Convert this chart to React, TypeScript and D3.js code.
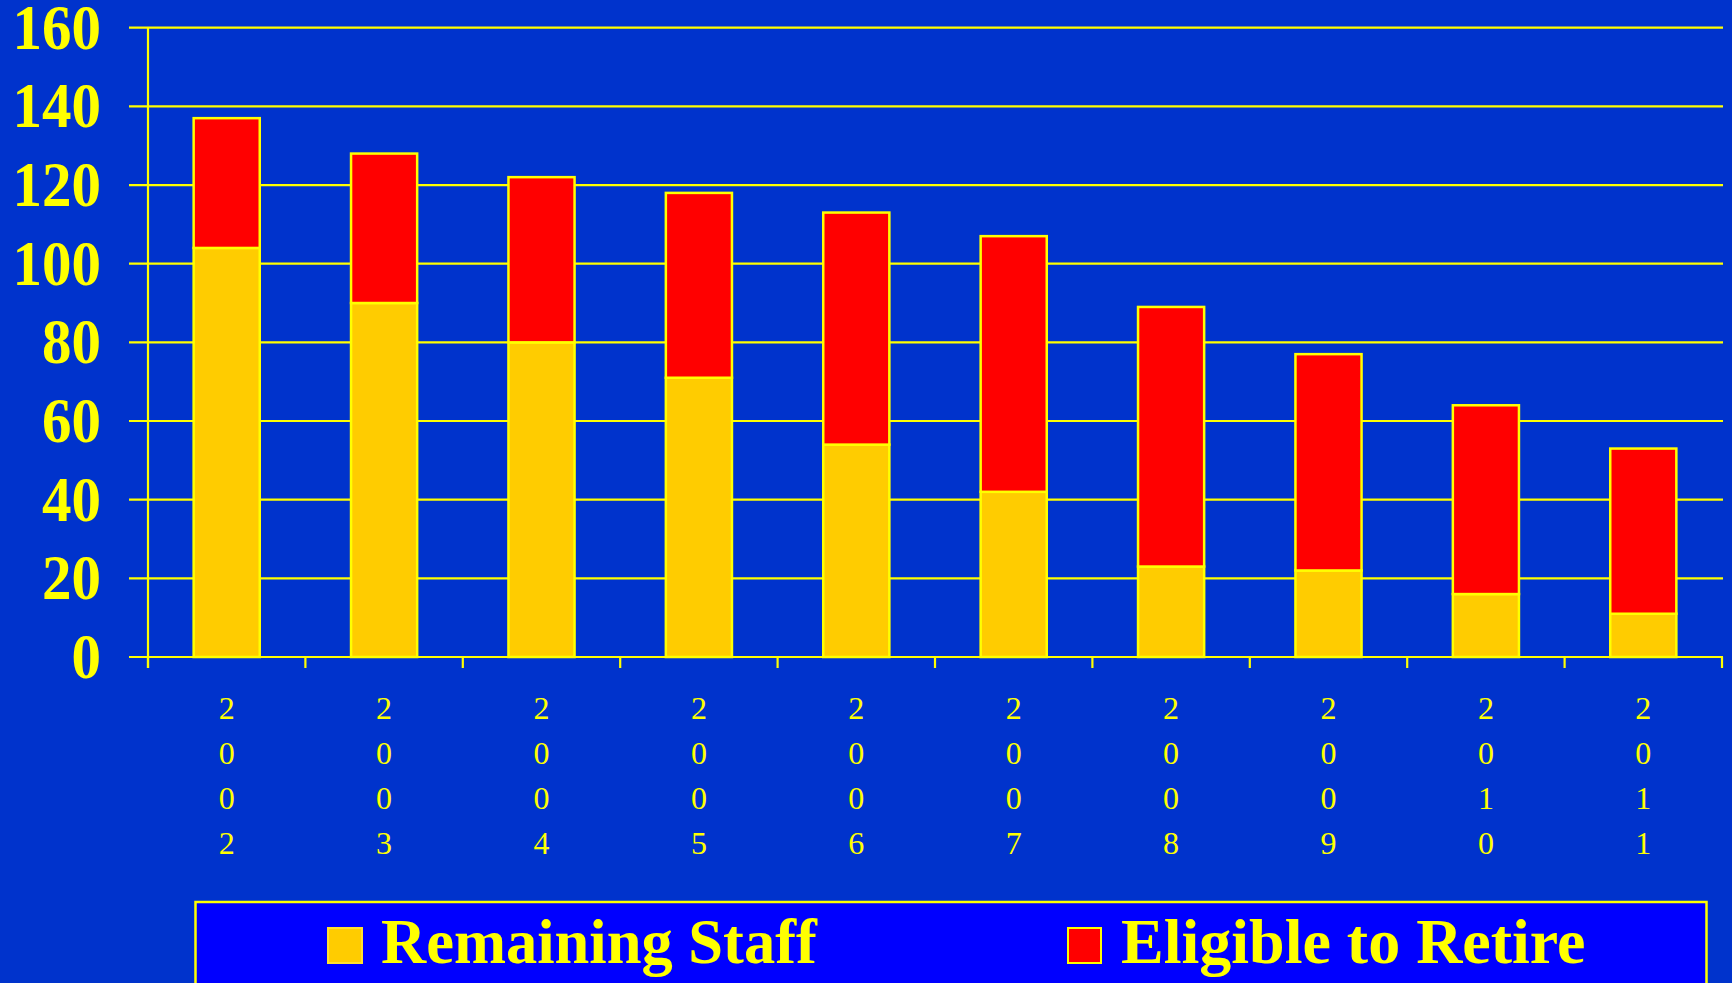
import React, { useEffect } from "react";
import * as d3 from "d3";

const years = ["2002", "2003", "2004", "2005", "2006", "2007", "2008", "2009", "2010", "2011"];
const remainingStaff = [104, 90, 80, 71, 54, 42, 23, 22, 16, 11];
const eligibleToRetire = [33, 38, 42, 47, 59, 65, 66, 55, 48, 42];
const yTicks = [0, 20, 40, 60, 80, 100, 120, 140, 160];
const legendLabels = ["Remaining Staff", "Eligible to Retire"];

const W = 1732;
const H = 983;
const BG = "#0033CC";
const LINE = "#FFFF00";
const YELLOW = "#FFCC00";
const RED = "#FF0000";
const FONT = "'Liberation Serif', 'Times New Roman', serif";

export default function App() {
  useEffect(() => {
    document.body.style.margin = "0";
    document.body.style.background = BG;
  }, []);

  const x = d3.scaleBand<string>().domain(years).range([148, 1722]).paddingInner(0.58).paddingOuter(0.29);
  const y = d3.scaleLinear().domain([0, 160]).range([657, 27.7]);
  const stack = d3.stack<any>().keys(["remaining", "eligible"])(
    years.map((yr, i) => ({ year: yr, remaining: remainingStaff[i], eligible: eligibleToRetire[i] }))
  );
  const fills = [YELLOW, RED];
  const step = x.step();
  const x0 = 148;
  const tickXs = d3.range(years.length + 1).map((i) => x0 + i * step);

  return (
    <svg width={W} height={H} style={{ display: "block" }}>
      <rect x={0} y={0} width={W} height={H} fill={BG} />
      {yTicks.map((t) => (
        <line key={"g" + t} x1={129} x2={1723} y1={y(t)} y2={y(t)} stroke={LINE} strokeWidth={2.2} />
      ))}
      <line x1={x0} x2={x0} y1={y(160)} y2={668} stroke={LINE} strokeWidth={2.2} />
      {tickXs.map((tx, i) => (
        <line key={"t" + i} x1={tx} x2={tx} y1={y(0)} y2={668} stroke={LINE} strokeWidth={2.2} />
      ))}
      {stack.map((layer, li) =>
        layer.map((d: any, i: number) => (
          <rect
            key={li + "-" + i}
            x={x(years[i])}
            y={y(d[1])}
            width={x.bandwidth()}
            height={y(d[0]) - y(d[1])}
            fill={fills[li]}
            stroke={LINE}
            strokeWidth={2.5}
          />
        ))
      )}
      {yTicks.map((t) => (
        <g key={"yl" + t} transform={`translate(101,${y(t)}) scale(1,1.08)`}>
          <text
            x={0}
            y={0}
            dy="0.33em"
            textAnchor="end"
            fill={LINE}
            fontFamily={FONT}
            fontWeight="bold"
            fontSize={59}
          >
            {t}
          </text>
        </g>
      ))}
      {years.map((yr) => (
        <g key={"xl" + yr}>
          {yr.split("").map((ch, j) => (
            <text
              key={j}
              x={(x(yr) as number) + x.bandwidth() / 2}
              y={707.7 + j * 45}
              dy="0.35em"
              textAnchor="middle"
              fill={LINE}
              fontFamily={FONT}
              fontSize={32}
            >
              {ch}
            </text>
          ))}
        </g>
      ))}
      <rect x={195.5} y={902} width={1511} height={100} fill="#0000FF" stroke={LINE} strokeWidth={2.5} />
      <rect x={328} y={928} width={34} height={35} fill={YELLOW} stroke="#FFE030" strokeWidth={2} />
      <text x={381} y={963} fill={LINE} fontFamily={FONT} fontWeight="bold" fontSize={62.5}>
        {legendLabels[0]}
      </text>
      <rect x={1068} y={928} width={33} height={35} fill={RED} stroke={LINE} strokeWidth={2} />
      <text x={1121} y={963} fill={LINE} fontFamily={FONT} fontWeight="bold" fontSize={64}>
        {legendLabels[1]}
      </text>
    </svg>
  );
}
